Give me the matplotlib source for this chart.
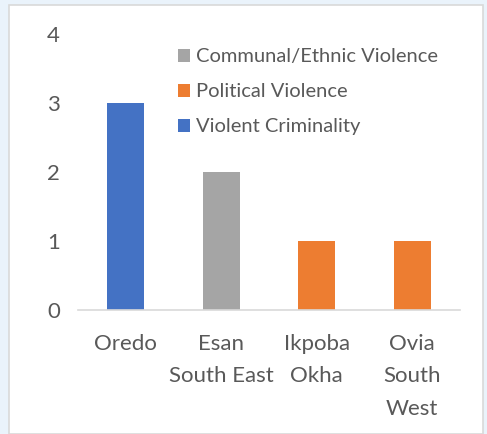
import matplotlib.pyplot as plt
from matplotlib.patches import Rectangle, Patch

# Data
districts = ['Oredo', 'Esan\nSouth East', 'Ikpoba\nOkha', 'Ovia\nSouth\nWest']
counts = [3, 2, 1, 1]
violence_type = ['Violent Criminality', 'Communal/Ethnic Violence',
                 'Political Violence', 'Political Violence']
type_colors = {'Communal/Ethnic Violence': '#a5a5a5',
               'Political Violence': '#ed7d31',
               'Violent Criminality': '#4472c4'}
legend_order = ['Communal/Ethnic Violence', 'Political Violence', 'Violent Criminality']
yticks = [0, 1, 2, 3, 4]

plt.rcParams['font.family'] = ['Lato', 'DejaVu Sans']

W, H = 487, 434
fig = plt.figure(figsize=(W / 100, H / 100), dpi=100, facecolor='#eaf3fb')

# white chart area with a thin grey frame
fig.patches.append(Rectangle((9 / W, 0), (483 - 9) / W, (H - 5) / H,
                             transform=fig.transFigure, facecolor='white',
                             edgecolor='#d9d9d9', linewidth=1.2, zorder=-1))

ax = fig.add_axes([78 / W, 1 - 310 / H, (460 - 78) / W, (310 - 34) / H])
ax.set_zorder(2)
ax.set_facecolor('none')

x = range(len(districts))
ax.bar(x, counts, width=0.39, color=[type_colors[t] for t in violence_type], zorder=2)

ax.set_xlim(-0.5, len(districts) - 0.5)
ax.set_ylim(0, 4)
ax.set_yticks(yticks)
ax.set_xticks(list(x))
ax.set_xticklabels(districts, fontsize=16, color='#595959', linespacing=1.78)
ax.tick_params(axis='y', labelsize=16, labelcolor='#595959', length=0, pad=13)
ax.tick_params(axis='x', length=0, pad=17)

for s in ['top', 'right', 'left']:
    ax.spines[s].set_visible(False)
ax.spines['bottom'].set_color('#d9d9d9')
ax.spines['bottom'].set_linewidth(1.2)

handles = [Patch(facecolor=type_colors[t], label=t) for t in legend_order]
ax.legend(handles=handles, loc='upper left', bbox_to_anchor=(0.24, 0.978),
          frameon=False, fontsize=14.5, labelcolor='#595959',
          handlelength=0.62, handleheight=0.62, handletextpad=0.3,
          labelspacing=0.9, borderaxespad=0)

fig.savefig('out.png', dpi=100, facecolor=fig.get_facecolor())
